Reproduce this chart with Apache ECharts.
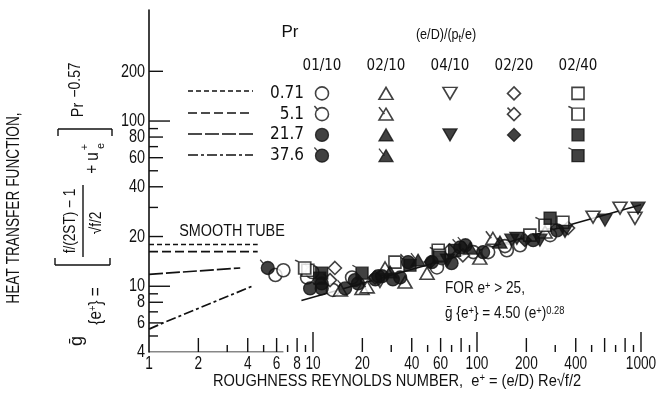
<!DOCTYPE html>
<html><head><meta charset="utf-8">
<script src="https://cdn.jsdelivr.net/npm/echarts@6/dist/echarts.min.js"></script>
<style>html,body{margin:0;background:#fff}#c{width:658px;height:406px}</style>
</head><body><div id="c"></div>
<script>
// ---- axis ranges (log-log) ----
const X_MIN = 1, X_MAX = 1000;
const Y_MIN = 4, Y_MAX = 470;

const xTickValues = [2,3,4,5,6,7,8,9,10,20,30,40,50,60,70,80,90,100,200,300,400,500,600,700,800,900,1000];
const xTickLabels = [1,2,4,6,8,10,20,40,60,100,200,400,1000];
const yTickValues = [5,6,7,8,9,10,20,30,40,50,60,70,80,90,100,200];
const yTickLabels = [4,6,8,10,20,40,60,80,100,200];

// legend table: rib geometry (e/D)/(pt/e) columns, Prandtl number rows
const geometries = ['01/10','02/10','04/10','02/20','02/40'];
const prandtl = ['0.71','5.1','21.7','37.6'];

// smooth-tube reference curves
const smooth071 = [[1,17.9],[4.6,17.9]];
const smooth51  = [[1,16.2],[4.6,16.2]];
const smooth217 = [[1,11.8],[3.6,12.9]];
const smooth376 = [[1,5.5],[1.22,6.0],[4.25,10.0]];

// correlation g = 4.50 (e+)^0.28, end points
const correlation = [[8.5,8.2],[1000,31.1]];
// short stretch of drawn abscissa line
const xAxisStub = [[1,4],[6.6,4]];

// measured points [e+, g]
const g0110_pr071 = [[5.9,11.7],[6.6,12.5],[9.2,11.3],[13.2,9.5],[17.3,11.3],[57,13.0],[95,16.1],[117,16.1],[152,16.5],[183,17.7],[279,20.4]];
const g0110_pr51  = [[9.9,12.2],[61,14.8],[148,17.5]];
const g0110_pr217 = [[9.6,9.7],[11.3,9.7],[11.3,10.4],[18.0,10.9],[18.8,10.4],[24,11.0],[25,11.5],[26.4,11.5],[30.7,11.0],[34,11.3],[53,14.0],[70,13.8],[109,16.1],[220,19.0],[308,21.8]];
const g0110_pr376 = [[5.3,12.9],[15.7,9.7],[38,14.0],[79,17.2],[85,17.7]];
const g0210_pr071 = [[14.7,9.5],[19.9,9.7],[27.5,12.9],[36.4,10.6],[49.6,12.0],[104,14.8],[260,21.3]];
const g0210_pr51  = [[21.4,9.9],[125,19.5]];
const g0210_pr217 = [[29.5,12.2],[138,18.5]];
const g0210_pr376 = [[43.7,14.4],[91,17.0]];
const g0410_pr071 = [[25.6,10.7],[510,26.2],[745,29.7],[919,25.8]];
const g0410_pr217 = [[66,14.4],[163,19.0],[175,19.5],[242,19.0],[344,21.5],[603,25.1],[959,29.7]];
const g0220_pr071 = [[13.6,12.9],[23.9,11.3],[68,16.5],[359,22.5]];
const g0220_pr51  = [[12.7,10.9],[82,15.4]];
const g0220_pr217 = [[52,14.0],[196,19.0]];
const g0240_pr071 = [[9.3,12.5],[31.6,14.0],[58,16.5],[210,20.4],[334,24.4]];
const g0240_pr51  = [[8.9,12.9],[59,15.4],[260,23.4]];
const g0240_pr217 = [[11,11.2],[11.3,12.0],[59,15.0],[73,16.5],[279,25.8]];
const g0240_pr376 = [[19.9,12.0],[39,13.4]];

const INK = '#111';
const FONT = "'Liberation Sans', Arial, sans-serif";
const NARROW = "'Liberation Sans Narrow','DejaVu Sans Condensed','Liberation Sans', Arial, sans-serif";

// marker shapes; "flag" variants carry the small tick used for Pr 5.1 / 37.6
const SHAPES = {
  circle:  { plain: ['circle', 13],
             flag:  ['path://M16,10A6,6 0 1,1 4,10A6,6 0 1,1 16,10Z M3,2.5L6.5,6.5 M17,17.5L17,17.5', [15.2,16.3]] },
  up:      { plain: ['triangle', [14,12]],
             flag:  ['path://M10,4.5L16.5,15.5L3.5,15.5Z M3.5,3.5L8.5,10 M16.5,16.5L16.5,16.5', [14,14]] },
  down:    { plain: ['path://M0,0L13,0L6.5,11Z', [14,12]] },
  diamond: { plain: ['path://M6,0L12,6L6,12L0,6Z', 13],
             flag:  ['path://M10,4L16,10L10,16L4,10Z M4,4L7,7 M16,16L16,16', 13] },
  square:  { plain: ['rect', 12],
             flag:  ['path://M5,5L15,5L15,15L5,15Z M2,3.5L5,5 M18,16.5L18,16.5', [19.2,15.6]] }
};

const groups = [
  { geo:'01/10', pr:'0.71', shape:'circle',  fill:false, flag:false, data:g0110_pr071 },
  { geo:'01/10', pr:'5.1',  shape:'circle',  fill:false, flag:true,  data:g0110_pr51 },
  { geo:'02/10', pr:'0.71', shape:'up',      fill:false, flag:false, data:g0210_pr071 },
  { geo:'02/10', pr:'5.1',  shape:'up',      fill:false, flag:true,  data:g0210_pr51 },
  { geo:'04/10', pr:'0.71', shape:'down',    fill:false, flag:false, data:g0410_pr071 },
  { geo:'02/20', pr:'0.71', shape:'diamond', fill:false, flag:false, data:g0220_pr071 },
  { geo:'02/20', pr:'5.1',  shape:'diamond', fill:false, flag:true,  data:g0220_pr51 },
  { geo:'02/40', pr:'0.71', shape:'square',  fill:false, flag:false, data:g0240_pr071 },
  { geo:'02/40', pr:'5.1',  shape:'square',  fill:false, flag:true,  data:g0240_pr51 },
  { geo:'01/10', pr:'21.7', shape:'circle',  fill:true,  flag:false, data:g0110_pr217 },
  { geo:'01/10', pr:'37.6', shape:'circle',  fill:true,  flag:true,  data:g0110_pr376 },
  { geo:'02/10', pr:'21.7', shape:'up',      fill:true,  flag:false, data:g0210_pr217 },
  { geo:'02/10', pr:'37.6', shape:'up',      fill:true,  flag:true,  data:g0210_pr376 },
  { geo:'04/10', pr:'21.7', shape:'down',    fill:true,  flag:false, data:g0410_pr217 },
  { geo:'02/20', pr:'21.7', shape:'diamond', fill:true,  flag:false, data:g0220_pr217 },
  { geo:'02/40', pr:'21.7', shape:'square',  fill:true,  flag:false, data:g0240_pr217 },
  { geo:'02/40', pr:'37.6', shape:'square',  fill:true,  flag:true,  data:g0240_pr376 }
];

// line styles of the smooth-tube curves, keyed by Pr
const DASH = { '0.71':[5,3], '5.1':[9,4], '21.7':[14,3], '37.6':[10,3,3,3] };
const smoothCurves = [
  { pr:'0.71', data:smooth071 }, { pr:'5.1', data:smooth51 },
  { pr:'21.7', data:smooth217 }, { pr:'37.6', data:smooth376 }
];

const series = [];

smoothCurves.forEach(c => series.push({
  type:'line', xAxisIndex:0, yAxisIndex:0, data:c.data, showSymbol:false, silent:true,
  lineStyle:{ color:INK, width:1.7, type:DASH[c.pr] }
}));
series.push({ type:'line', xAxisIndex:0, yAxisIndex:0, data:correlation, showSymbol:false, silent:true,
  lineStyle:{ color:INK, width:1.5 } });
series.push({ type:'line', xAxisIndex:0, yAxisIndex:0, data:xAxisStub, showSymbol:false, silent:true,
  lineStyle:{ color:INK, width:1.2 } });

groups.forEach(g => {
  const s = SHAPES[g.shape][g.flag ? 'flag' : 'plain'];
  const itemStyle = { color: g.fill ? INK : '#fff', borderColor: INK, borderWidth: g.fill ? 1.3 : 1.6 };
  series.push({ type:'scatter', xAxisIndex:0, yAxisIndex:0, data:g.data, symbol:s[0], symbolSize:s[1],
    itemStyle, silent:true, z:3 });
  series.push({ type:'scatter', xAxisIndex:1, yAxisIndex:1,
    data:[[geometries.indexOf(g.geo), prandtl.indexOf(g.pr)]], symbol:s[0], symbolSize:s[1],
    itemStyle, silent:true, z:3 });
});

const isDecade = v => Math.abs(Math.log10(v) - Math.round(Math.log10(v))) < 1e-6;
const mantissa = v => Math.round(v / Math.pow(10, Math.floor(Math.log10(v) + 1e-9)));

// tick marks on the abscissa (pointing up)
series.push({
  type:'custom', xAxisIndex:0, yAxisIndex:0, clip:false, silent:true,
  data: xTickValues.map(v => [v, Y_MIN]),
  renderItem(params, api) {
    const v = api.value(0);
    const p = api.coord([v, Y_MIN]);
    const len = isDecade(v) ? 20 : (mantissa(v) % 2 === 0 ? 14 : 7);
    return { type:'line', shape:{ x1:p[0], y1:p[1], x2:p[0], y2:p[1]-len }, style:{ stroke:INK, lineWidth:1.4 } };
  }
});
// tick marks on the ordinate (pointing right)
series.push({
  type:'custom', xAxisIndex:0, yAxisIndex:0, clip:false, silent:true,
  data: yTickValues.map(v => [X_MIN, v]),
  renderItem(params, api) {
    const v = api.value(1);
    const p = api.coord([X_MIN, v]);
    const len = isDecade(v) ? 21 : (mantissa(v) % 2 === 0 ? 14 : 9);
    return { type:'line', shape:{ x1:p[0], y1:p[1], x2:p[0]+len, y2:p[1] }, style:{ stroke:INK, lineWidth:1.4 } };
  }
});
// tick labels
series.push({
  type:'custom', xAxisIndex:0, yAxisIndex:0, clip:false, silent:true,
  data: xTickLabels.map(v => [v, Y_MIN]),
  renderItem(params, api) {
    const v = api.value(0);
    const p = api.coord([v, Y_MIN]);
    return { type:'text', x:p[0], y:p[1]+12, scaleX:0.72,
      style:{ text:String(v), fontSize:19, fontFamily:FONT, fill:INK, align:'center', verticalAlign:'middle' } };
  }
});
series.push({
  type:'custom', xAxisIndex:0, yAxisIndex:0, clip:false, silent:true,
  data: yTickLabels.map(v => [X_MIN, v]),
  renderItem(params, api) {
    const v = api.value(1);
    const p = api.coord([X_MIN, v]);
    return { type:'text', x:p[0]-4, y:p[1], scaleX:0.76,
      style:{ text:String(v), fontSize:19, fontFamily:FONT, fill:INK, align:'right', verticalAlign:'middle' } };
  }
});

function txt(text, x, y, size, opt) {
  opt = opt || {};
  const el = { type:'text', x, y, silent:true, rotation: opt.rotation || 0, scaleX: opt.scaleX || 1,
    style:{ text, fontSize:size, fontFamily:FONT, fill:INK, align: opt.align || 'center', verticalAlign:'middle' } };
  if (opt.rich) el.style.rich = opt.rich;
  return el;
}
function seg(x1, y1, x2, y2, w, dash) {
  return { type:'line', silent:true, shape:{ x1, y1, x2, y2 }, style:{ stroke:INK, lineWidth:w || 1.4, lineDash: dash || null } };
}

const R90 = Math.PI / 2;
const supStyle = { fontSize:11, fontFamily:FONT, fill:INK, verticalAlign:'top', lineHeight:18 };
const subStyle = { fontSize:11, fontFamily:FONT, fill:INK, verticalAlign:'bottom', lineHeight:18 };

const graphics = [
  // legend header
  txt('Pr', 290, 32, 17),
  txt('(e/D)/(p{sub|t}/e)', 446, 35, 14, { rich:{ sub:subStyle }, scaleX:0.9 }),
  // legend line keys
  seg(188, 91, 253, 91, 1.5, DASH['0.71']),
  seg(188, 113, 253, 113, 1.5, DASH['5.1']),
  seg(188, 134, 253, 134, 1.5, DASH['21.7']),
  seg(188, 155, 253, 155, 1.5, DASH['37.6']),
  // annotations
  txt('SMOOTH TUBE', 232, 232, 16, { scaleX:0.9 }),
  txt('FOR e{sup|+} > 25,', 445, 289, 16, { align:'left', scaleX:0.85, rich:{ sup:supStyle } }),
  txt('ḡ {e{sup|+}} = 4.50 (e{sup|+}){sup|0.28}', 445, 314, 16, { align:'left', scaleX:0.85, rich:{ sup:supStyle } }),
  // axis titles
  txt('ROUGHNESS REYNOLDS NUMBER,  e{sup|+} = (e/D) Re√f/2', 397, 381, 17, { scaleX:0.86, rich:{ sup:supStyle } }),
  txt('HEAT TRANSFER FUNCTION,', 14, 208, 18, { rotation:R90, scaleX:0.76 }),
  // ordinate definition  g{e+} = [ (f/(2ST) - 1)/sqrt(f/2) + ue+ ] Pr^-0.57
  txt('ḡ', 77, 341, 18, { rotation:R90 }),
  txt('{e{sup|+}} =', 96, 306, 18, { rotation:R90, scaleX:0.85, rich:{ sup:supStyle } }),
  seg(55, 265, 110, 265), seg(55, 265, 55, 258), seg(110, 265, 110, 258),
  txt('f/(2ST) − 1', 71, 221, 16, { rotation:R90, scaleX:0.85 }),
  seg(83, 185, 83, 257, 1.4),
  txt('√f/2', 97, 223, 16, { rotation:R90, scaleX:0.85 }),
  txt('+ u', 93, 163, 18, { rotation:R90, scaleX:0.85 }),
  txt('+', 85, 147, 11, { rotation:R90 }),
  txt('e', 101, 146, 11, { rotation:R90 }),
  seg(58, 129, 112, 129), seg(58, 129, 58, 136), seg(112, 129, 112, 136),
  txt('Pr', 78, 110, 17, { rotation:R90, scaleX:0.85 }),
  txt('−0.57', 76, 80, 16, { rotation:R90, scaleX:0.87 })
];

const chart = echarts.init(document.getElementById('c'), null, { renderer:'canvas' });
chart.setOption({
  backgroundColor:'#fff',
  animation:false,
  grid:[
    { left:149, right:17, top:10, bottom:54, outerBoundsMode:'none', containLabel:false },
    { left:290, right:48, top:83, height:83, outerBoundsMode:'none', containLabel:false }
  ],
  xAxis:[
    { type:'log', logBase:10, min:X_MIN, max:X_MAX, gridIndex:0,
      axisLine:{show:false}, axisTick:{show:false}, axisLabel:{show:false}, splitLine:{show:false} },
    { type:'category', gridIndex:1, data:geometries, position:'top', boundaryGap:true,
      axisLine:{show:false}, axisTick:{show:false}, splitLine:{show:false},
      axisLabel:{ color:INK, fontSize:15, fontFamily:NARROW, margin:9, interval:0 } }
  ],
  yAxis:[
    { type:'log', logBase:10, min:Y_MIN, max:Y_MAX, gridIndex:0,
      axisLine:{show:true, lineStyle:{color:INK, width:1.6}}, axisTick:{show:false}, axisLabel:{show:false}, splitLine:{show:false} },
    { type:'category', gridIndex:1, data:prandtl, inverse:true, boundaryGap:true,
      axisLine:{show:false}, axisTick:{show:false}, splitLine:{show:false},
      axisLabel:{ color:INK, fontSize:17, fontFamily:NARROW, margin:-14, interval:0, hideOverlap:false } }
  ],
  graphic: graphics,
  series
});
</script>
</body></html>
